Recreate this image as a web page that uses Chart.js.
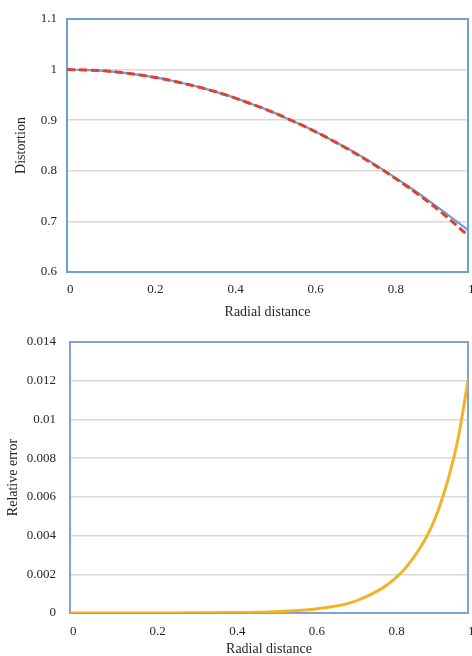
<!DOCTYPE html>
<html><head><meta charset="utf-8">
<script src="https://cdn.jsdelivr.net/npm/chart.js@4.4.1/dist/chart.umd.min.js"></script>
<style>
html,body{margin:0;padding:0;background:#fff;}
#wrap{position:relative;width:472px;height:656px;overflow:hidden;}
.box{position:absolute;left:0;width:472px;height:328px;}
canvas{display:block;}
</style></head><body>
<div id="wrap">
<div class="box" style="top:0"><canvas id="c1" width="472" height="328"></canvas></div>
<div class="box" style="top:328px"><canvas id="c2" width="472" height="328"></canvas></div>
</div>
<script>
// ---- data ----
const radial = [0,0.05,0.1,0.15,0.2,0.25,0.3,0.35,0.4,0.45,0.5,0.55,0.6,0.65,0.7,0.75,0.8,0.85,0.9,0.95,1.0];
const distortionExact  = [1.000,0.999,0.997,0.993,0.987,0.980,0.971,0.961,0.949,0.935,0.920,0.903,0.885,0.865,0.844,0.821,0.796,0.770,0.742,0.713,0.683];
const distortionApprox = [1.000,0.999,0.997,0.993,0.987,0.980,0.971,0.961,0.949,0.935,0.920,0.903,0.885,0.865,0.843,0.820,0.795,0.768,0.739,0.707,0.672];
const radialErr = [0,0.1,0.2,0.3,0.4,0.45,0.5,0.55,0.6,0.65,0.7,0.75,0.8,0.85,0.9,0.925,0.95,0.975,1.0];
const relativeError = [0,0,0,0.00001,0.00002,0.00003,0.00005,0.0001,0.00017,0.0003,0.0005,0.0009,0.0015,0.0025,0.0041,0.0053,0.0069,0.0090,0.0120];
const xTickLabels = ['0','0.2','0.4','0.6','0.8','1'];
const yTickLabelsTop = ['0.6','0.7','0.8','0.9','1','1.1'];
const yTickLabelsBottom = ['0','0.002','0.004','0.006','0.008','0.01','0.012','0.014'];
const xTitle = 'Radial distance';
const yTitleTop = 'Distortion';
const yTitleBottom = 'Relative error';

const pts = (xs, ys) => xs.map((x, i) => ({x, y: ys[i]}));

const FONT = 'Liberation Serif';
const TXT = '#262626';
const GRID = '#dcd8d6';

const frame = {
  id: 'frame',
  beforeDatasetsDraw(chart, args, opts) {
    const {ctx, chartArea: a} = chart;
    ctx.save();
    ctx.strokeStyle = opts.color;
    ctx.lineWidth = opts.width;
    ctx.strokeRect(a.left, a.top, a.right - a.left, a.bottom - a.top);
    ctx.restore();
  }
};

function makeChart(id, datasets, g) {
  return new Chart(document.getElementById(id), {
    type: 'line',
    data: {datasets},
    plugins: [frame],
    options: {
      responsive: false,
      animation: false,
      devicePixelRatio: 1,
      layout: {padding: {top: g.top, right: 472 - g.right, left: 0, bottom: 0}},
      plugins: {legend: {display: false}, tooltip: {enabled: false}, frame: {color: g.frameColor, width: 2}},
      elements: {point: {radius: 0}},
      scales: {
        x: {
          type: 'linear', min: 0, max: 1,
          border: {display: false},
          grid: {display: false, drawTicks: false},
          ticks: {
            stepSize: 0.2, align: 'start', padding: g.xPad, color: TXT,
            font: {family: FONT, size: 13},
            callback: (v, i) => xTickLabels[i]
          },
          title: {display: true, text: xTitle, color: TXT, font: {family: FONT, size: 14, lineHeight: 1}, padding: {top: 0, bottom: g.xTitlePad}},
          afterFit: s => { s.height = 328 - g.bottom; s.paddingLeft = 0; s.paddingRight = 0; }
        },
        y: {
          type: 'linear', min: g.ymin, max: g.ymax,
          border: {display: false},
          grid: {color: GRID, lineWidth: 1.5, drawTicks: false},
          ticks: {
            stepSize: g.step, padding: g.yPad, color: TXT,
            font: {family: FONT, size: 13},
            callback: (v, i) => g.yLabels[i]
          },
          title: {display: true, text: g.yTitle, color: TXT, font: {family: FONT, size: 14, lineHeight: 1}, padding: {top: g.yTitlePad, bottom: 0}},
          afterFit: s => { s.width = g.left; s.paddingTop = 0; s.paddingBottom = 0; }
        }
      }
    }
  });
}

makeChart('c1', [
  {data: pts(radial, distortionExact), borderColor: '#6a9fd8', borderWidth: 2.2, cubicInterpolationMode: 'monotone', fill: false, order: 2},
  {data: pts(radial, distortionApprox), borderColor: '#e0402e', borderWidth: 3, borderDash: [8, 4], cubicInterpolationMode: 'monotone', fill: false, order: 1}
], {left: 67, right: 468, top: 19, bottom: 272, ymin: 0.6, ymax: 1.1, step: 0.1, yLabels: yTickLabelsTop,
    yTitle: yTitleTop, xPad: 10, yPad: 10, xTitlePad: 9, yTitlePad: 14, frameColor: '#6d9fd6'});

makeChart('c2', [
  {data: pts(radialErr, relativeError), borderColor: '#f0b428', borderWidth: 3, cubicInterpolationMode: 'monotone', fill: false}
], {left: 70, right: 468, top: 14, bottom: 285, ymin: 0, ymax: 0.014, step: 0.002, yLabels: yTickLabelsBottom,
    yTitle: yTitleBottom, xPad: 11, yPad: 14, xTitlePad: 0, yTitlePad: 6, frameColor: '#7ea3cf'});
</script>
</body></html>
